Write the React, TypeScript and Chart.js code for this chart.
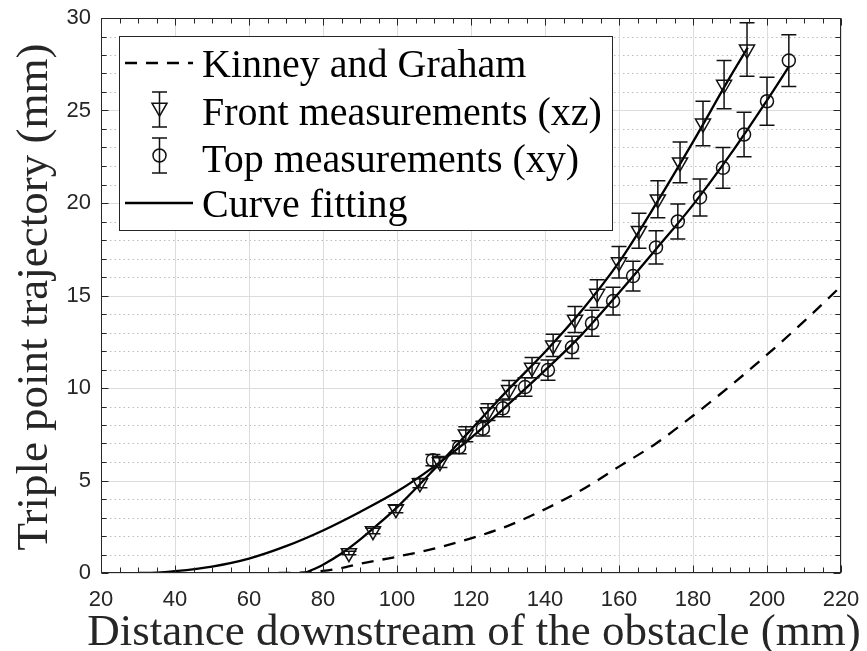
import React, { useEffect, useRef } from 'react';
import { Chart, registerables } from 'chart.js';

Chart.register(...registerables);

// ---- data ----
const xTicks = [20, 40, 60, 80, 100, 120, 140, 160, 180, 200, 220];
const yTicks = [0, 5, 10, 15, 20, 25, 30];

const kinneyX = [68, 72, 76, 80, 85, 90, 100, 110, 120, 130, 140, 150, 160, 170, 180, 190, 200, 210, 220];
const kinneyY = [0, 0.01, 0.05, 0.12, 0.27, 0.5, 0.88, 1.32, 1.87, 2.55, 3.45, 4.5, 5.75, 7.0, 8.5, 10.1, 11.8, 13.6, 15.5];

const frontX = [87.0, 93.5, 99.7, 106.2, 111.6, 118.6, 124.6, 130.3, 136.5, 142.2, 148.1, 154.1, 160.0, 165.4, 170.5, 176.5, 182.7, 188.4, 194.6];
const frontY = [1.08, 2.27, 3.46, 4.86, 6.0, 7.5, 8.7, 9.9, 11.1, 12.3, 13.7, 15.1, 16.8, 18.5, 20.2, 22.2, 24.3, 26.4, 28.3];
const frontErr = [0.1, 0.15, 0.2, 0.25, 0.3, 0.4, 0.45, 0.5, 0.55, 0.6, 0.7, 0.75, 0.85, 0.95, 1.0, 1.1, 1.2, 1.3, 1.45];

const topX = [109.7, 116.8, 123.2, 128.6, 134.6, 140.8, 147.3, 152.7, 158.4, 163.8, 170.0, 175.9, 181.9, 188.1, 193.8, 200.0, 205.9];
const topY = [6.1, 6.8, 7.8, 8.9, 10.05, 10.97, 12.2, 13.5, 14.7, 16.05, 17.6, 19.0, 20.3, 21.9, 23.7, 25.5, 27.7];
const topErr = [0.3, 0.35, 0.4, 0.45, 0.5, 0.55, 0.6, 0.7, 0.75, 0.8, 0.9, 0.95, 1.0, 1.1, 1.2, 1.3, 1.4];

const frontFitX = [75.2, 80, 85, 90, 95, 100, 110, 120, 130, 140, 150, 160, 170, 180, 190, 194.8];
const frontFitY = [0, 0.45, 1.05, 1.8, 2.65, 3.55, 5.6, 7.75, 9.9, 11.95, 14.2, 16.8, 19.95, 23.3, 26.8, 28.4];

const topFitX = [30, 35, 40, 50, 60, 70, 80, 90, 100, 110, 120, 130, 140, 150, 160, 170, 180, 190, 200, 206];
const topFitY = [0, 0.02, 0.1, 0.35, 0.78, 1.45, 2.3, 3.3, 4.4, 5.75, 7.3, 9.1, 10.95, 12.9, 15.15, 17.5, 19.9, 22.6, 25.55, 27.4];

const legendLabels = ['Kinney and Graham', 'Front measurements (xz)', 'Top measurements (xy)', 'Curve fitting'];
const xTitle = 'Distance downstream of the obstacle (mm)';
const yTitle = 'Triple point trajectory (mm)';

const zip = (xs: number[], ys: number[]) => xs.map((x, i) => ({ x, y: ys[i] }));

const AXIS_COLOR = '#262626';
const DASH = [12, 9];
const LINE_W = 2.3;

function triPath(ctx: CanvasRenderingContext2D, x: number, y: number, r: number) {
  ctx.beginPath();
  ctx.moveTo(x, y + r);
  ctx.lineTo(x - 0.866 * r, y - 0.5 * r);
  ctx.lineTo(x + 0.866 * r, y - 0.5 * r);
  ctx.closePath();
  ctx.stroke();
}

function circPath(ctx: CanvasRenderingContext2D, x: number, y: number, r: number) {
  ctx.beginPath();
  ctx.arc(x, y, r, 0, Math.PI * 2);
  ctx.stroke();
}

function errBar(ctx: CanvasRenderingContext2D, x: number, y1: number, y2: number, cap: number) {
  ctx.beginPath();
  ctx.moveTo(x, y1);
  ctx.lineTo(x, y2);
  ctx.moveTo(x - cap, y1);
  ctx.lineTo(x + cap, y1);
  ctx.moveTo(x - cap, y2);
  ctx.lineTo(x + cap, y2);
  ctx.stroke();
}

const gridPlugin = {
  id: 'matlabGrid',
  beforeDatasetsDraw(chart: any) {
    const { ctx, chartArea: a, scales } = chart;
    const ys = scales.y;
    const xs = scales.x;
    ctx.save();
    ctx.lineWidth = 1;
    ctx.strokeStyle = '#bdbdbd';
    ctx.setLineDash([1.5, 3]);
    for (let v = yTicks[0] + 1; v < yTicks[yTicks.length - 1]; v++) {
      if (yTicks.includes(v)) continue;
      const py = Math.round(ys.getPixelForValue(v)) + 0.5;
      ctx.beginPath();
      ctx.moveTo(a.left, py);
      ctx.lineTo(a.right, py);
      ctx.stroke();
    }
    ctx.setLineDash([]);
    ctx.strokeStyle = '#dcdcdc';
    xTicks.forEach((v) => {
      const px = Math.round(xs.getPixelForValue(v)) + 0.5;
      ctx.beginPath();
      ctx.moveTo(px, a.top);
      ctx.lineTo(px, a.bottom);
      ctx.stroke();
    });
    yTicks.forEach((v) => {
      const py = Math.round(ys.getPixelForValue(v)) + 0.5;
      ctx.beginPath();
      ctx.moveTo(a.left, py);
      ctx.lineTo(a.right, py);
      ctx.stroke();
    });
    ctx.restore();
  },
  afterDatasetsDraw(chart: any) {
    const { ctx, chartArea: a, scales } = chart;
    const xs = scales.x;
    const ys = scales.y;
    ctx.save();
    // error bars
    ctx.strokeStyle = '#111';
    ctx.lineWidth = 1.5;
    const drawErr = (X: number[], Y: number[], E: number[]) => {
      X.forEach((xv, i) => {
        const px = xs.getPixelForValue(xv);
        errBar(ctx, px, ys.getPixelForValue(Y[i] + E[i]), ys.getPixelForValue(Y[i] - E[i]), 7.5);
      });
    };
    drawErr(frontX, frontY, frontErr);
    drawErr(topX, topY, topErr);

    // axes box
    ctx.strokeStyle = AXIS_COLOR;
    ctx.lineWidth = 1;
    const L = Math.round(a.left) + 0.5, R = Math.round(a.right) - 0.5;
    const T = Math.round(a.top) + 0.5, B = Math.round(a.bottom) - 0.5;
    ctx.strokeRect(L, T, R - L, B - T);
    // ticks
    const x0 = xTicks[0], x1 = xTicks[xTicks.length - 1];
    for (let v = x0; v <= x1; v += 5) {
      const px = Math.round(xs.getPixelForValue(v)) + 0.5;
      const len = xTicks.includes(v) ? 7 : 5;
      ctx.beginPath();
      ctx.moveTo(px, B);
      ctx.lineTo(px, B - len);
      ctx.moveTo(px, T);
      ctx.lineTo(px, T + len);
      ctx.stroke();
    }
    const y0 = yTicks[0], y1 = yTicks[yTicks.length - 1];
    for (let v = y0; v <= y1; v += 1) {
      const py = Math.round(ys.getPixelForValue(v)) + 0.5;
      const len = yTicks.includes(v) ? 7 : 5;
      ctx.beginPath();
      ctx.moveTo(L, py);
      ctx.lineTo(L + len, py);
      ctx.moveTo(R, py);
      ctx.lineTo(R - len, py);
      ctx.stroke();
    }
    ctx.restore();
  },
  afterDraw(chart: any) {
    const { ctx } = chart;
    ctx.save();
    // axis titles
    ctx.fillStyle = AXIS_COLOR;
    ctx.font = '45px "Liberation Serif"';
    ctx.textAlign = 'center';
    ctx.textBaseline = 'alphabetic';
    ctx.fillText(xTitle, 474, 645);
    ctx.save();
    ctx.translate(47, 297);
    ctx.rotate(-Math.PI / 2);
    ctx.fillText(yTitle, 0, 0);
    ctx.restore();

    // legend
    const bx = 119.5, by = 36.5, bw = 493, bh = 194;
    ctx.fillStyle = '#ffffff';
    ctx.fillRect(bx, by, bw, bh);
    ctx.strokeStyle = AXIS_COLOR;
    ctx.lineWidth = 1;
    ctx.strokeRect(bx, by, bw, bh);

    const baselines = [77, 125, 172, 217];
    ctx.fillStyle = '#000';
    ctx.font = '40px "Liberation Serif"';
    ctx.textAlign = 'left';
    legendLabels.forEach((lab, i) => {
      ctx.fillText(lab, 202, baselines[i]);
    });
    ctx.strokeStyle = '#000';
    // dashed sample
    ctx.lineWidth = LINE_W;
    ctx.setLineDash(DASH);
    ctx.beginPath();
    ctx.moveTo(125, baselines[0] - 14);
    ctx.lineTo(193, baselines[0] - 14);
    ctx.stroke();
    ctx.setLineDash([]);
    // solid sample
    ctx.beginPath();
    ctx.moveTo(125, baselines[3] - 14);
    ctx.lineTo(193, baselines[3] - 14);
    ctx.stroke();
    // marker samples
    ctx.lineWidth = 1.5;
    ctx.strokeStyle = '#111';
    const fy = baselines[1] - 15.5;
    errBar(ctx, 159.5, fy - 17.5, fy + 17.5, 7.5);
    triPath(ctx, 159.5, fy - 2, 8.7);
    const ty = baselines[2] - 16.5;
    errBar(ctx, 159.5, ty - 17.5, ty + 17.5, 7.5);
    circPath(ctx, 159.5, ty, 6.5);
    ctx.restore();
  },
};

export default function App() {
  const ref = useRef<HTMLCanvasElement | null>(null);
  useEffect(() => {
    if (!ref.current) return;
    const lineBase = {
      showLine: true,
      pointRadius: 0,
      borderWidth: LINE_W,
      borderColor: '#000',
      backgroundColor: '#000',
      fill: false,
      cubicInterpolationMode: 'monotone' as const,
    };
    const chart = new Chart(ref.current, {
      type: 'scatter',
      data: {
        datasets: [
          { ...lineBase, label: legendLabels[0], data: zip(kinneyX, kinneyY), borderDash: DASH },
          {
            label: legendLabels[1],
            data: zip(frontX, frontY),
            showLine: false,
            pointStyle: 'triangle',
            rotation: 180,
            pointRadius: 8.7,
            borderWidth: 1.5,
            borderColor: '#111',
            backgroundColor: 'rgba(0,0,0,0)',
          },
          {
            label: legendLabels[2],
            data: zip(topX, topY),
            showLine: false,
            pointStyle: 'circle',
            pointRadius: 6.5,
            borderWidth: 1.5,
            borderColor: '#111',
            backgroundColor: 'rgba(0,0,0,0)',
          },
          { ...lineBase, label: legendLabels[3], data: zip(frontFitX, frontFitY) },
          { ...lineBase, label: legendLabels[3] + ' (xy)', data: zip(topFitX, topFitY) },
        ],
      } as any,
      options: {
        responsive: false,
        animation: false,
        layout: { padding: { left: 0, right: 26, top: 18, bottom: 0 } },
        plugins: { legend: { display: false }, tooltip: { enabled: false } },
        scales: {
          x: {
            type: 'linear',
            min: xTicks[0],
            max: xTicks[xTicks.length - 1],
            afterFit: (s: any) => { s.height = 78; s.paddingLeft = 0; s.paddingRight = 0; },
            afterBuildTicks: (s: any) => { s.ticks = xTicks.map((v) => ({ value: v })); },
            grid: { display: false, drawTicks: false },
            border: { display: false },
            ticks: {
              font: { family: 'Liberation Sans', size: 22 },
              color: AXIS_COLOR,
              padding: 14,
              maxRotation: 0,
              autoSkip: false,
            },
          },
          y: {
            type: 'linear',
            min: yTicks[0],
            max: yTicks[yTicks.length - 1],
            afterFit: (s: any) => { s.width = 101; s.paddingTop = 0; s.paddingBottom = 0; },
            afterBuildTicks: (s: any) => { s.ticks = yTicks.map((v) => ({ value: v })); },
            grid: { display: false, drawTicks: false },
            border: { display: false },
            ticks: {
              font: { family: 'Liberation Sans', size: 22 },
              color: AXIS_COLOR,
              padding: 10,
              autoSkip: false,
            },
          },
        },
      } as any,
      plugins: [gridPlugin],
    });
    return () => chart.destroy();
  }, []);
  return (
    <div style={{ position: 'fixed', left: 0, top: 0, width: 867, height: 651, background: '#fff' }}>
      <canvas ref={ref} width={867} height={651} style={{ display: 'block' }} />
    </div>
  );
}
